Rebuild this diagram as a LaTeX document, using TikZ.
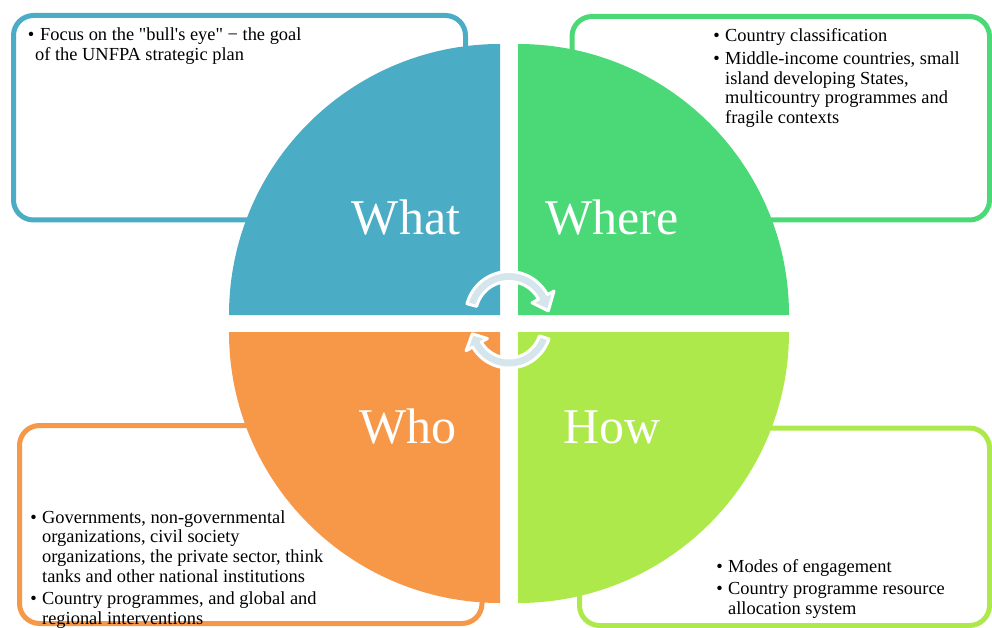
\documentclass[tikz,border=0pt]{standalone}
\usepackage{fontspec}
\setmainfont{Liberation Serif}[Ligatures=TeXOff]

\definecolor{whatblue}{RGB}{75,172,198}
\definecolor{wheregreen}{RGB}{74,217,118}
\definecolor{howlime}{RGB}{174,233,75}
\definecolor{whoorange}{RGB}{247,152,72}
\definecolor{cyclefill}{RGB}{213,229,236}

\newcommand{\bitem}[1]{\par\noindent\llap{\textbullet\hspace{5.5pt}}#1}
\newcommand{\blist}[1]{\parbox[t]{330pt}{\fontsize{18.4}{19.8}\selectfont\raggedright\setlength{\parskip}{2.5pt}#1}}

\begin{document}
\begin{tikzpicture}[x=1pt,y=1pt,line join=round,
    frame/.style={line width=5pt,rounded corners=20pt,fill=white},
    quarter/.style={draw=none},
    qlabel/.style={anchor=base,inner sep=0pt,text=white,font=\fontsize{50}{60}\selectfont},
    txt/.style={anchor=base west,inner sep=0pt},
    cycarrow/.style={fill=cyclefill,draw=white,line width=3pt}]

      \useasboundingbox (0,0) rectangle (992,-628);

      % outer boxes
      \draw[frame,draw=whatblue]   (13.5,-15.5) rectangle (465.5,-220);
      \draw[frame,draw=wheregreen] (572,-16.5)  rectangle (989.5,-220);
      \draw[frame,draw=whoorange]  (19.5,-425.5) rectangle (482,-623.5);
      \draw[frame,draw=howlime]    (579.5,-428) rectangle (989.5,-625.5);

      % four quarters
      \fill[whatblue]   (500,-315) -- (229,-315) arc[start angle=180,end angle=90,radius=271] -- cycle;
      \fill[wheregreen] (518,-315) -- (518,-44)  arc[start angle=90,end angle=0,radius=271] -- cycle;
      \fill[howlime]    (518,-332) -- (789,-332) arc[start angle=0,end angle=-90,radius=271] -- cycle;
      \fill[whoorange]  (500,-332) -- (500,-603) arc[start angle=270,end angle=180,radius=271] -- cycle;

      \path (406,-235) node[qlabel] (what)  {What};
      \path (612,-235) node[qlabel] (where) {Where};
      \path (408,-443) node[qlabel] (who)   {Who};
      \path (612,-443) node[qlabel] (how)   {How};

      % cycle arrows
      \draw[cycarrow,shift={(509,-315)}] (165:43.5) arc[start angle=165,end angle=28,radius=43.5]
            -- (28:51) -- (6:39.5) -- (28:26) -- (28:33.5)
            arc[start angle=28,end angle=165,radius=33.5] -- cycle;
      \draw[cycarrow,shift={(509,-326)}] (-18:42) arc[start angle=-18,end angle=-150,radius=42]
            -- (-150:49.5) -- (-168:37.5) -- (-150:25) -- (-150:32)
            arc[start angle=-150,end angle=-18,radius=32] -- cycle;

      % box texts
      \path (35,-41) node[txt] (focus) {\blist{\par\noindent\llap{\textbullet\hspace{1pt}}\hspace{5pt}Focus on the "bull's eye" − the goal\\
            of the UNFPA strategic plan}};
      \path (725,-42) node[txt] (classes) {\blist{\bitem{Country classification}
            \bitem{Middle-income countries, small\\ island developing States,\\ multicountry programmes and\\ fragile contexts}}};
      \path (42,-523) node[txt] (actors) {\blist{\bitem{Governments, non-governmental\\ organizations, civil society\\ organizations, the private sector, think\\ tanks and other national institutions}
            \bitem{Country programmes, and global and\\ regional interventions}}};
      \path (728,-572) node[txt] (modes) {\blist{\bitem{Modes of engagement}
            \bitem{Country programme resource\\ allocation system}}};
   \end{tikzpicture}
\end{document}
